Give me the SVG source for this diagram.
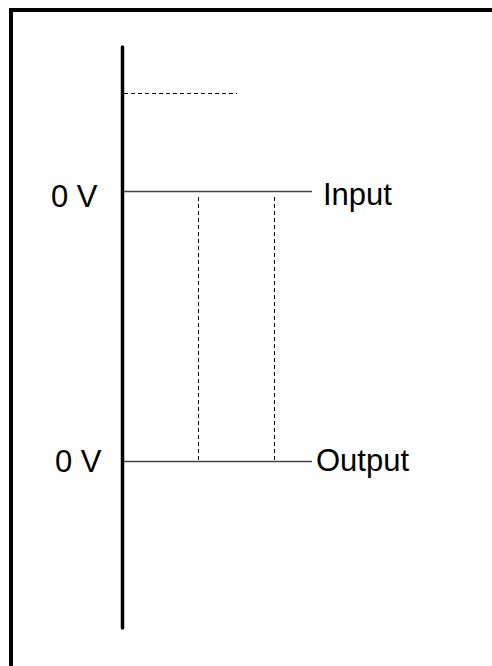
<svg xmlns="http://www.w3.org/2000/svg" width="492" height="666" viewBox="0 0 492 666">
<style>
.lbl{font-family:"Liberation Sans",Arial,sans-serif;font-size:31px;fill:#000}
.thin{stroke:#444;stroke-width:1.3;fill:none}
.dash{stroke:#000;stroke-width:1;stroke-dasharray:4,3;fill:none}
</style>
<rect x="0" y="0" width="492" height="666" fill="#fff"/>
<rect x="11" y="10" width="500" height="680" fill="none" stroke="#000" stroke-width="4"/>
<g id="axis"><line x1="122.5" y1="47" x2="122.5" y2="628" stroke="#000" stroke-width="3.5" stroke-linecap="round"/></g>
<g id="connectors">
<line class="dash" x1="124" y1="93.5" x2="237" y2="93.5"/>
<line class="thin" x1="124" y1="191.5" x2="312" y2="191.5"/>
<line class="thin" x1="124" y1="461.5" x2="312" y2="461.5"/>
<line class="dash" x1="198.5" y1="197" x2="198.5" y2="461"/>
<line class="dash" x1="274.5" y1="197" x2="274.5" y2="461"/>
</g>
<g id="input-label"><text class="lbl" x="51" y="207">0 V</text><text class="lbl" x="323" y="205">Input</text></g>
<g id="output-label"><text class="lbl" x="55" y="472">0 V</text><text class="lbl" x="316" y="471">Output</text></g>
</svg>
